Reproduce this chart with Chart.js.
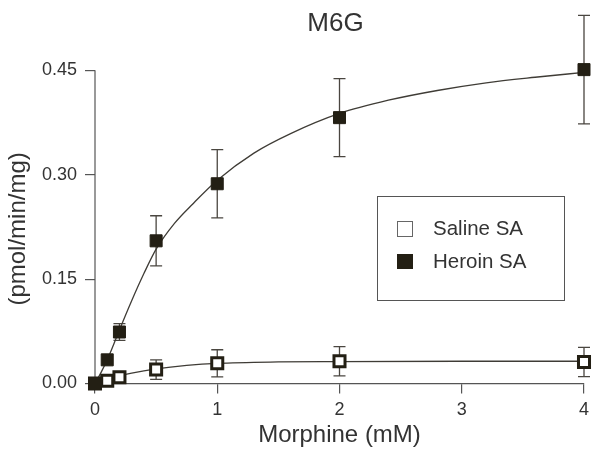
<!DOCTYPE html>
<html>
<head>
<meta charset="utf-8">
<script src="https://cdn.jsdelivr.net/npm/chart.js@4.4.1/dist/chart.umd.min.js"></script>
<style>
  html, body { margin:0; padding:0; background:#fff; }
  #wrap { width:601px; height:450px; position:relative; }
</style>
</head>
<body>
<div id="wrap"><canvas id="m6g"></canvas></div>
<script>
// ---- data ----
const doses = [0, 0.1, 0.2, 0.5, 1, 2, 4];

const heroinMean = [0, 0.034, 0.074, 0.205, 0.287, 0.382, 0.451];
const heroinErr  = [0, 0, 0.012, 0.036, 0.049, 0.056, 0.078];

const salineMean = [0, 0.004, 0.009, 0.020, 0.029, 0.032, 0.031];
const salineErr  = [0, 0, 0, 0.014, 0.0195, 0.021, 0.021];

// fitted curves
const heroinCurveX = [0, 0.05, 0.1, 0.15, 0.2, 0.3, 0.4, 0.5, 0.65, 0.8, 1.0, 1.3, 1.6, 2.0, 2.4, 2.8, 3.2, 3.6, 4.0];
const heroinCurveY = [0, 0.016, 0.034, 0.055, 0.077, 0.119, 0.158, 0.193, 0.230, 0.258, 0.292, 0.331, 0.359, 0.388, 0.407, 0.421, 0.432, 0.440, 0.447];

const salineCurveX = [0, 0.1, 0.2, 0.3, 0.5, 0.75, 1, 1.5, 2, 3, 4];
const salineCurveY = [0, 0.006, 0.011, 0.015, 0.021, 0.026, 0.029, 0.031, 0.0315, 0.032, 0.032];

const xTicks = [0, 1, 2, 3, 4];
const yTicks = [0, 0.15, 0.30, 0.45];

const INK = '#231f14';
const AXIS = '#555';
const FONT = "'Liberation Sans', Arial, Helvetica, sans-serif";

const pts = (xs, ys) => xs.map((x,i)=>({x:x, y:ys[i]}));

// ---- error bars, axis line, titles, legend ----
const extras = {
  id:'extras',
  beforeDatasetsDraw(chart){
    const ctx = chart.ctx;
    const xs = chart.scales.x, ys = chart.scales.y;
    ctx.save();
    ctx.strokeStyle = '#4a4640';
    ctx.lineWidth = 1.3;
    [[heroinMean, heroinErr],[salineMean, salineErr]].forEach(([m,e])=>{
      doses.forEach((d,i)=>{
        if(!e[i]) return;
        const px = xs.getPixelForValue(d);
        const top = ys.getPixelForValue(m[i] + e[i]);
        const bot = ys.getPixelForValue(m[i] - e[i]);
        ctx.beginPath();
        ctx.moveTo(px, top); ctx.lineTo(px, bot);
        ctx.moveTo(px-6, top); ctx.lineTo(px+6, top);
        ctx.moveTo(px-6, bot); ctx.lineTo(px+6, bot);
        ctx.stroke();
      });
    });
    // y axis line only from 0 to 0.45
    ctx.strokeStyle = AXIS;
    ctx.lineWidth = 1.2;
    const ax = xs.getPixelForValue(0);
    ctx.beginPath();
    ctx.moveTo(ax, ys.getPixelForValue(0));
    ctx.lineTo(ax, ys.getPixelForValue(0.45));
    ctx.stroke();
    ctx.restore();
  },
  afterDraw(chart){
    const ctx = chart.ctx;
    const ca = chart.chartArea;
    const ys = chart.scales.y;
    ctx.save();
    // title
    ctx.fillStyle = '#333';
    ctx.font = '26px ' + FONT;
    ctx.textAlign = 'center';
    ctx.textBaseline = 'middle';
    ctx.fillText('M6G', (ca.left + ca.right)/2 - 4, 24);

    // y title, centred on the drawn axis
    const midY = (ys.getPixelForValue(0) + ys.getPixelForValue(0.45)) / 2;
    ctx.save();
    ctx.translate(18, midY + 2);
    ctx.rotate(-Math.PI/2);
    ctx.font = '24px ' + FONT;
    ctx.fillText('(pmol/min/mg)', 0, 0);
    ctx.restore();

    // legend
    ctx.strokeStyle = '#555';
    ctx.lineWidth = 1;
    ctx.strokeRect(377.5, 196.5, 187, 104);
    ctx.fillStyle = '#fff';
    ctx.strokeStyle = '#666';
    ctx.fillRect(397.5, 221.5, 15, 15);
    ctx.strokeRect(397.5, 221.5, 15, 15);
    ctx.fillStyle = INK;
    ctx.fillRect(397, 254, 16, 15);
    ctx.fillStyle = '#333';
    ctx.font = '20.5px ' + FONT;
    ctx.textAlign = 'left';
    ctx.fillText('Saline SA', 433, 229);
    ctx.fillText('Heroin SA', 433, 262);
    ctx.restore();
  }
};

new Chart(document.getElementById('m6g'), {
  type:'scatter',
  data:{
    datasets:[
      {
        label:'Heroin SA',
        data: pts(doses, heroinMean),
        pointStyle:'rect',
        pointRadius:8.5,
        backgroundColor:INK,
        borderColor:INK,
        borderWidth:1,
        showLine:false
      },
      {
        label:'Saline SA',
        data: pts(doses, salineMean),
        pointStyle:'rect',
        pointRadius:7.8,
        backgroundColor:'#fff',
        borderColor:INK,
        borderWidth:3,
        showLine:false
      },
      {
        label:'heroin fit',
        data: pts(heroinCurveX, heroinCurveY),
        showLine:true,
        pointRadius:0,
        borderColor:'#3f3c36',
        borderWidth:1.3,
        cubicInterpolationMode:'monotone'
      },
      {
        label:'saline fit',
        data: pts(salineCurveX, salineCurveY),
        showLine:true,
        pointRadius:0,
        borderColor:'#3f3c36',
        borderWidth:1.3,
        cubicInterpolationMode:'monotone'
      }
    ]
  },
  options:{
    responsive:true,
    maintainAspectRatio:false,
    animation:false,
    clip:false,
    layout:{ padding:{ left:0, right:17, top:12, bottom:0 } },
    plugins:{
      legend:{ display:false },
      tooltip:{ enabled:false }
    },
    scales:{
      x:{
        type:'linear',
        min:0, max:4,
        afterFit(scale){ scale.height = 66.5; },
        afterBuildTicks(scale){ scale.ticks = xTicks.map(v=>({value:v})); },
        grid:{ display:true, drawOnChartArea:false, drawTicks:true, tickLength:10, color:AXIS, lineWidth:1.2 },
        border:{ display:true, color:AXIS, width:1.2 },
        ticks:{ color:'#333', font:{ family:FONT, size:18 }, padding:6, maxRotation:0 },
        title:{ display:true, text:'Morphine (mM)', color:'#333', font:{ family:FONT, size:24 }, padding:{ top:0, bottom:0 } }
      },
      y:{
        type:'linear',
        min:0, max:0.524,
        afterFit(scale){ scale.width = 95; },
        afterBuildTicks(scale){ scale.ticks = yTicks.map(v=>({value:v})); },
        grid:{ display:true, drawOnChartArea:false, drawTicks:true, tickLength:10, color:AXIS, lineWidth:1.2 },
        border:{ display:false },
        ticks:{ color:'#333', font:{ family:FONT, size:18 }, padding:8, callback:v=>Number(v).toFixed(2) }
      }
    }
  },
  plugins:[extras]
});
</script>
</body>
</html>
